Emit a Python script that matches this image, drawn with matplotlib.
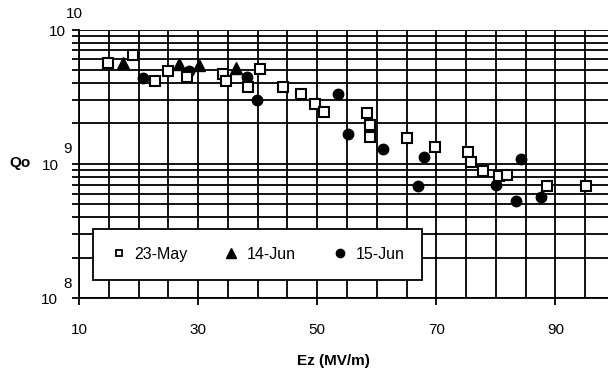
import matplotlib
matplotlib.use("Agg")
import matplotlib.pyplot as plt
from matplotlib.ticker import MultipleLocator, FixedLocator, LogLocator, NullFormatter

plt.rcParams['font.family'] = ['Liberation Sans', 'DejaVu Sans']

# Data
may_x = [14.9, 19.1, 22.8, 24.9, 28.1, 34.2, 34.7, 38.4, 40.4, 44.2, 47.2, 49.6, 51.1,
         58.3, 58.8, 58.8, 65.0, 69.7, 75.4, 75.8, 77.8, 80.6, 81.8, 88.5, 95.2]
may_q = [5.6e9, 6.5e9, 4.1e9, 4.9e9, 4.4e9, 4.65e9, 4.1e9, 3.7e9, 5.05e9, 3.7e9, 3.3e9, 2.77e9, 2.42e9,
         2.38e9, 1.94e9, 1.57e9, 1.55e9, 1.33e9, 1.22e9, 1.03e9, 8.8e8, 8.1e8, 8.2e8, 6.8e8, 6.8e8]

jun14_x = [17.4, 26.8, 30.1, 36.3]
jun14_q = [5.6e9, 5.5e9, 5.4e9, 5.2e9]

jun15_x = [20.7, 28.5, 38.2, 39.9, 53.5, 55.1, 61.0, 66.9, 67.9, 80.1, 83.3, 84.2, 87.5]
jun15_q = [4.33e9, 4.9e9, 4.4e9, 3.0e9, 3.3e9, 1.66e9, 1.28e9, 6.8e8, 1.12e9, 6.9e8, 5.25e8, 1.08e9, 5.7e8]

series_labels = ["23-May", "14-Jun", "15-Jun"]
x_ticks = [10, 30, 50, 70, 90]
y_exponents = [8, 9, 10]

W, H = 608, 369
fig = plt.figure(figsize=(W / 100, H / 100), dpi=100)
x0, x1 = 79, 615
ytop, ybot = 29.5, 298
ax = fig.add_axes([x0 / W, 1 - ybot / H, (x1 - x0) / W, (ybot - ytop) / H])

ax.set_yscale('log')
ax.set_xlim(10, 100)
ax.set_ylim(1e8, 1e10)

ax.xaxis.set_major_locator(FixedLocator(x_ticks))
ax.xaxis.set_minor_locator(MultipleLocator(5))
ax.yaxis.set_major_locator(LogLocator(base=10, numticks=5))
ax.yaxis.set_minor_locator(LogLocator(base=10, subs=range(2, 10), numticks=20))
ax.yaxis.set_major_formatter(NullFormatter())
ax.yaxis.set_minor_formatter(NullFormatter())

ax.grid(True, which='both', color='black', linewidth=1.3)
ax.set_axisbelow(True)

ax.tick_params(axis='x', which='major', direction='out', length=5, width=1.3, pad=13,
               labelsize=11, colors='black')
ax.tick_params(axis='x', which='minor', length=0)
ax.tick_params(axis='y', which='both', direction='out', length=5, width=1.3)

for s in ['top', 'right']:
    ax.spines[s].set_visible(False)
for s in ['left', 'bottom']:
    ax.spines[s].set_linewidth(1.3)
    ax.spines[s].set_color('black')

ax.plot(jun15_x, jun15_q, 'o', ms=7.5, mfc='black', mec='black', label=series_labels[2], zorder=3)
ax.plot(may_x, may_q, 's', ms=7, mfc='white', mec='black', mew=1.5, label=series_labels[0], zorder=4)
ax.plot(jun14_x, jun14_q, '^', ms=8.5, mfc='black', mec='black', label=series_labels[1], zorder=5)

# y tick labels as 10 with raised exponent
offsets = {10: (-13, -13, 15), 9: (-20, -16, 15), 8: (-21, -16, 14)}
for e in y_exponents:
    bx, ex, ey = offsets[e]
    ax.annotate("10", xy=(0, 10.0 ** e), xycoords=('axes fraction', 'data'),
                xytext=(bx, -2), textcoords='offset pixels', ha='right', va='center',
                fontsize=11, annotation_clip=False)
    ax.annotate(str(e), xy=(0, 10.0 ** e), xycoords=('axes fraction', 'data'),
                xytext=(ex, ey), textcoords='offset pixels', ha='left', va='center',
                fontsize=11, annotation_clip=False)

handles, labels = ax.get_legend_handles_labels()
order = [1, 2, 0]
leg = ax.legend([handles[i] for i in order], [labels[i] for i in order], ncol=3,
                loc='center', bbox_to_anchor=(93 / W, 1 - 281 / H, (422 - 93) / W, (281 - 228) / H),
                bbox_transform=fig.transFigure, mode='expand', fontsize=11.5, frameon=True,
                fancybox=False, edgecolor='black', framealpha=1,
                handlelength=1.0, handletextpad=0.5, borderpad=1.1, borderaxespad=0,
                columnspacing=2.3)
leg.get_frame().set_linewidth(1.3)
leg.set_zorder(10)
for h, ms in zip(leg.legend_handles, [5, 6.5, 6]):
    h.set_markersize(ms)
leg.legend_handles[0].set_markeredgewidth(1.3)

fig.text(20 / W, 1 - 163 / H, "Qo", fontsize=11, fontweight='bold', ha='center', va='center')
fig.text(333 / W, 1 - 361 / H, "Ez (MV/m)", fontsize=11, fontweight='bold', ha='center', va='center')

fig.savefig("out.png", dpi=100)
